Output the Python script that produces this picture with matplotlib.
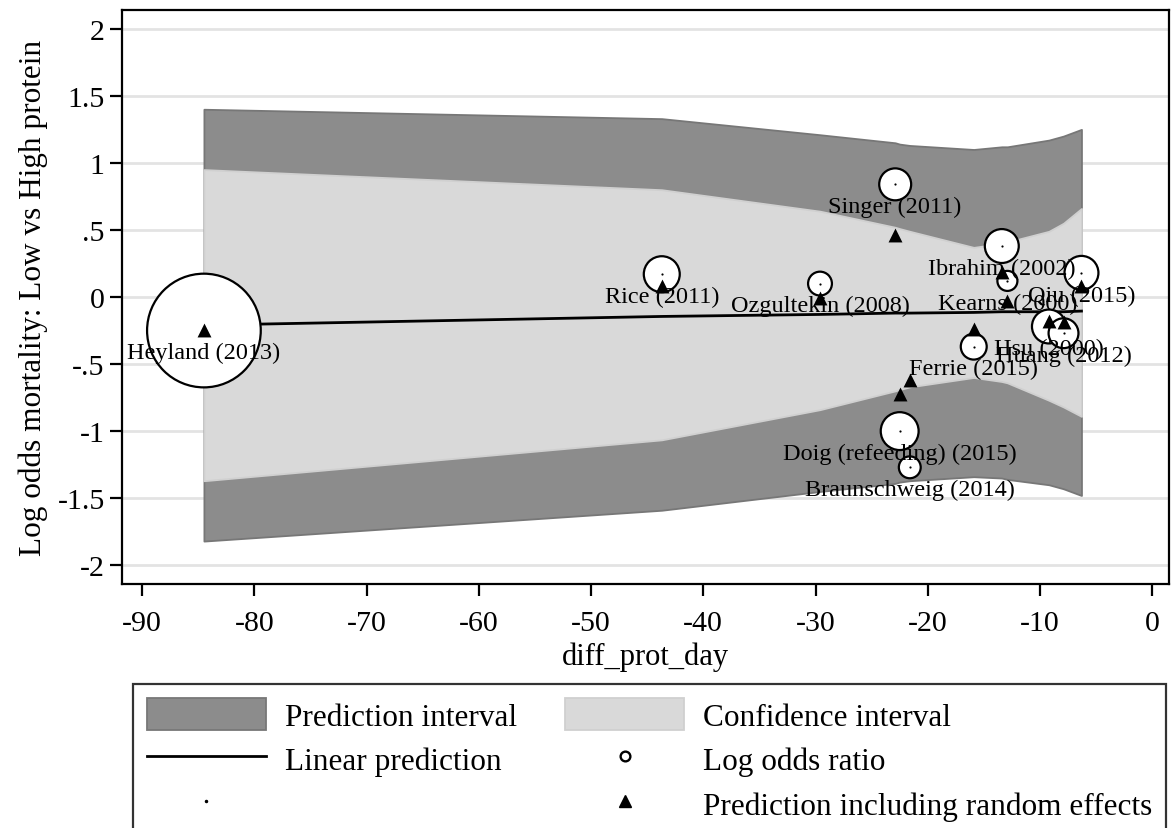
import matplotlib
matplotlib.use("Agg")
import matplotlib.pyplot as plt
from matplotlib.lines import Line2D
from matplotlib.patches import Patch
import numpy as np

plt.rcParams['font.family'] = ['Liberation Serif', 'DejaVu Serif']

# ---- data ----
studies = ["Heyland (2013)", "Rice (2011)", "Ozgultekin (2008)", "Singer (2011)",
           "Doig (refeeding) (2015)", "Braunschweig (2014)", "Ferrie (2015)",
           "Ibrahim (2002)", "Kearns (2000)", "Hsu (2000)", "Huang (2012)", "Qiu (2015)"]
diff_prot_day = [-84.5, -43.7, -29.6, -22.9, -22.5, -21.6, -15.9, -13.4, -12.9, -9.2, -7.9, -6.3]
log_or = [-0.25, 0.17, 0.10, 0.84, -1.00, -1.27, -0.37, 0.38, 0.12, -0.22, -0.27, 0.18]
weights = [100, 10.0, 4.4, 7.9, 11.1, 3.7, 5.2, 8.9, 3.1, 8.9, 6.9, 8.9]
pred_re = [-0.245, 0.08, -0.01, 0.46, -0.72, -0.62, -0.24, 0.19, -0.03, -0.18, -0.19, 0.085]
fit = [-0.21, -0.145, -0.13, -0.12, -0.12, -0.12, -0.115, -0.11, -0.11, -0.11, -0.11, -0.105]
ci_lo = [-1.37, -1.065, -0.84, -0.70, -0.69, -0.67, -0.60, -0.63, -0.64, -0.77, -0.82, -0.89]
ci_hi = [0.95, 0.80, 0.64, 0.52, 0.51, 0.49, 0.37, 0.40, 0.41, 0.49, 0.55, 0.66]
pi_lo = [-1.82, -1.59, -1.45, -1.39, -1.38, -1.37, -1.34, -1.35, -1.36, -1.40, -1.43, -1.48]
pi_hi = [1.40, 1.33, 1.21, 1.15, 1.14, 1.13, 1.10, 1.12, 1.12, 1.17, 1.20, 1.25]

xticks = [-90, -80, -70, -60, -50, -40, -30, -20, -10, 0]
yticks = [2, 1.5, 1, 0.5, 0, -0.5, -1, -1.5, -2]
ytick_labels = ["2", "1.5", "1", ".5", "0", "-.5", "-1", "-1.5", "-2"]

# ---- figure ----
W, H = 1171, 829
fig = plt.figure(figsize=(W / 100, H / 100), dpi=100)
ax = fig.add_axes([122 / W, 1 - 585 / H, (1169 - 122) / W, (585 - 11) / H])

DARK = "#8c8c8c"
LIGHT = "#d9d9d9"

ax.fill_between(diff_prot_day, pi_lo, pi_hi, facecolor=DARK, edgecolor="#777777",
                linewidth=1.3, zorder=2)
ax.fill_between(diff_prot_day, ci_lo, ci_hi, facecolor=LIGHT, edgecolor="#d0d0d0",
                linewidth=1.3, zorder=3)
ax.plot(diff_prot_day, fit, color="black", lw=2.0, zorder=4)

sizes = np.array(weights) * 67.0
ax.scatter(diff_prot_day, log_or, s=sizes, facecolors="white", edgecolors="black",
           linewidths=1.6, zorder=5)
for name, xv, yv in zip(studies, diff_prot_day, log_or):
    ax.annotate(name, (xv, yv), xytext=(0, -16), textcoords="offset points",
                ha="center", va="center", fontsize=17.5, zorder=6)
ax.scatter(diff_prot_day, log_or, s=2.5, color="black", zorder=7, linewidths=0)
ax.scatter(diff_prot_day, pred_re, marker="^", s=100, color="black", zorder=8,
           linewidths=0)

ax.set_xlim(-91.8, 1.5)
ax.set_ylim(-2.14, 2.14)
ax.set_xticks(xticks)
ax.set_xticklabels([str(t) for t in xticks])
ax.set_yticks(yticks)
ax.set_yticklabels(ytick_labels)
ax.yaxis.grid(True, color="#e3e3e3", lw=2.0, zorder=0)
ax.set_axisbelow(True)
ax.tick_params(axis="both", labelsize=21.5, length=8.5, width=1.6, direction="out")
ax.tick_params(axis="x", pad=10.5)
ax.tick_params(axis="y", pad=4)
for sp in ax.spines.values():
    sp.set_linewidth(1.6)

ax.set_xlabel("diff_prot_day", fontsize=22, labelpad=3.5)
ax.set_ylabel("Log odds mortality: Low vs High protein", fontsize=22.5, labelpad=7)

handles = [
    Patch(facecolor=DARK, edgecolor="#777777", lw=1.3),
    Line2D([], [], color="black", lw=2.0),
    Line2D([], [], color="black", marker="o", ms=1.5, lw=0),
    Patch(facecolor=LIGHT, edgecolor="#d0d0d0", lw=1.3),
    Line2D([], [], color="black", marker="o", ms=7, mfc="white", mew=1.7, lw=0),
    Line2D([], [], color="black", marker="^", ms=8.5, lw=0),
]
labels = ["Prediction interval", "Linear prediction", " ",
          "Confidence interval", "Log odds ratio", "Prediction including random effects"]
leg = fig.legend(handles, labels, ncol=2, loc="upper left",
                 bbox_to_anchor=(133 / W, 1 - 685 / H, (1166 - 133) / W, 0),
                 mode="expand", fontsize=22.5, frameon=True, fancybox=False,
                 handlelength=3.8, handleheight=1.2, labelspacing=0.36,
                 handletextpad=0.6, borderpad=0.45, borderaxespad=0,
                 columnspacing=1.0)
leg.get_frame().set_edgecolor("black")
leg.get_frame().set_linewidth(1.6)

fig.savefig("out.png", dpi=100)
